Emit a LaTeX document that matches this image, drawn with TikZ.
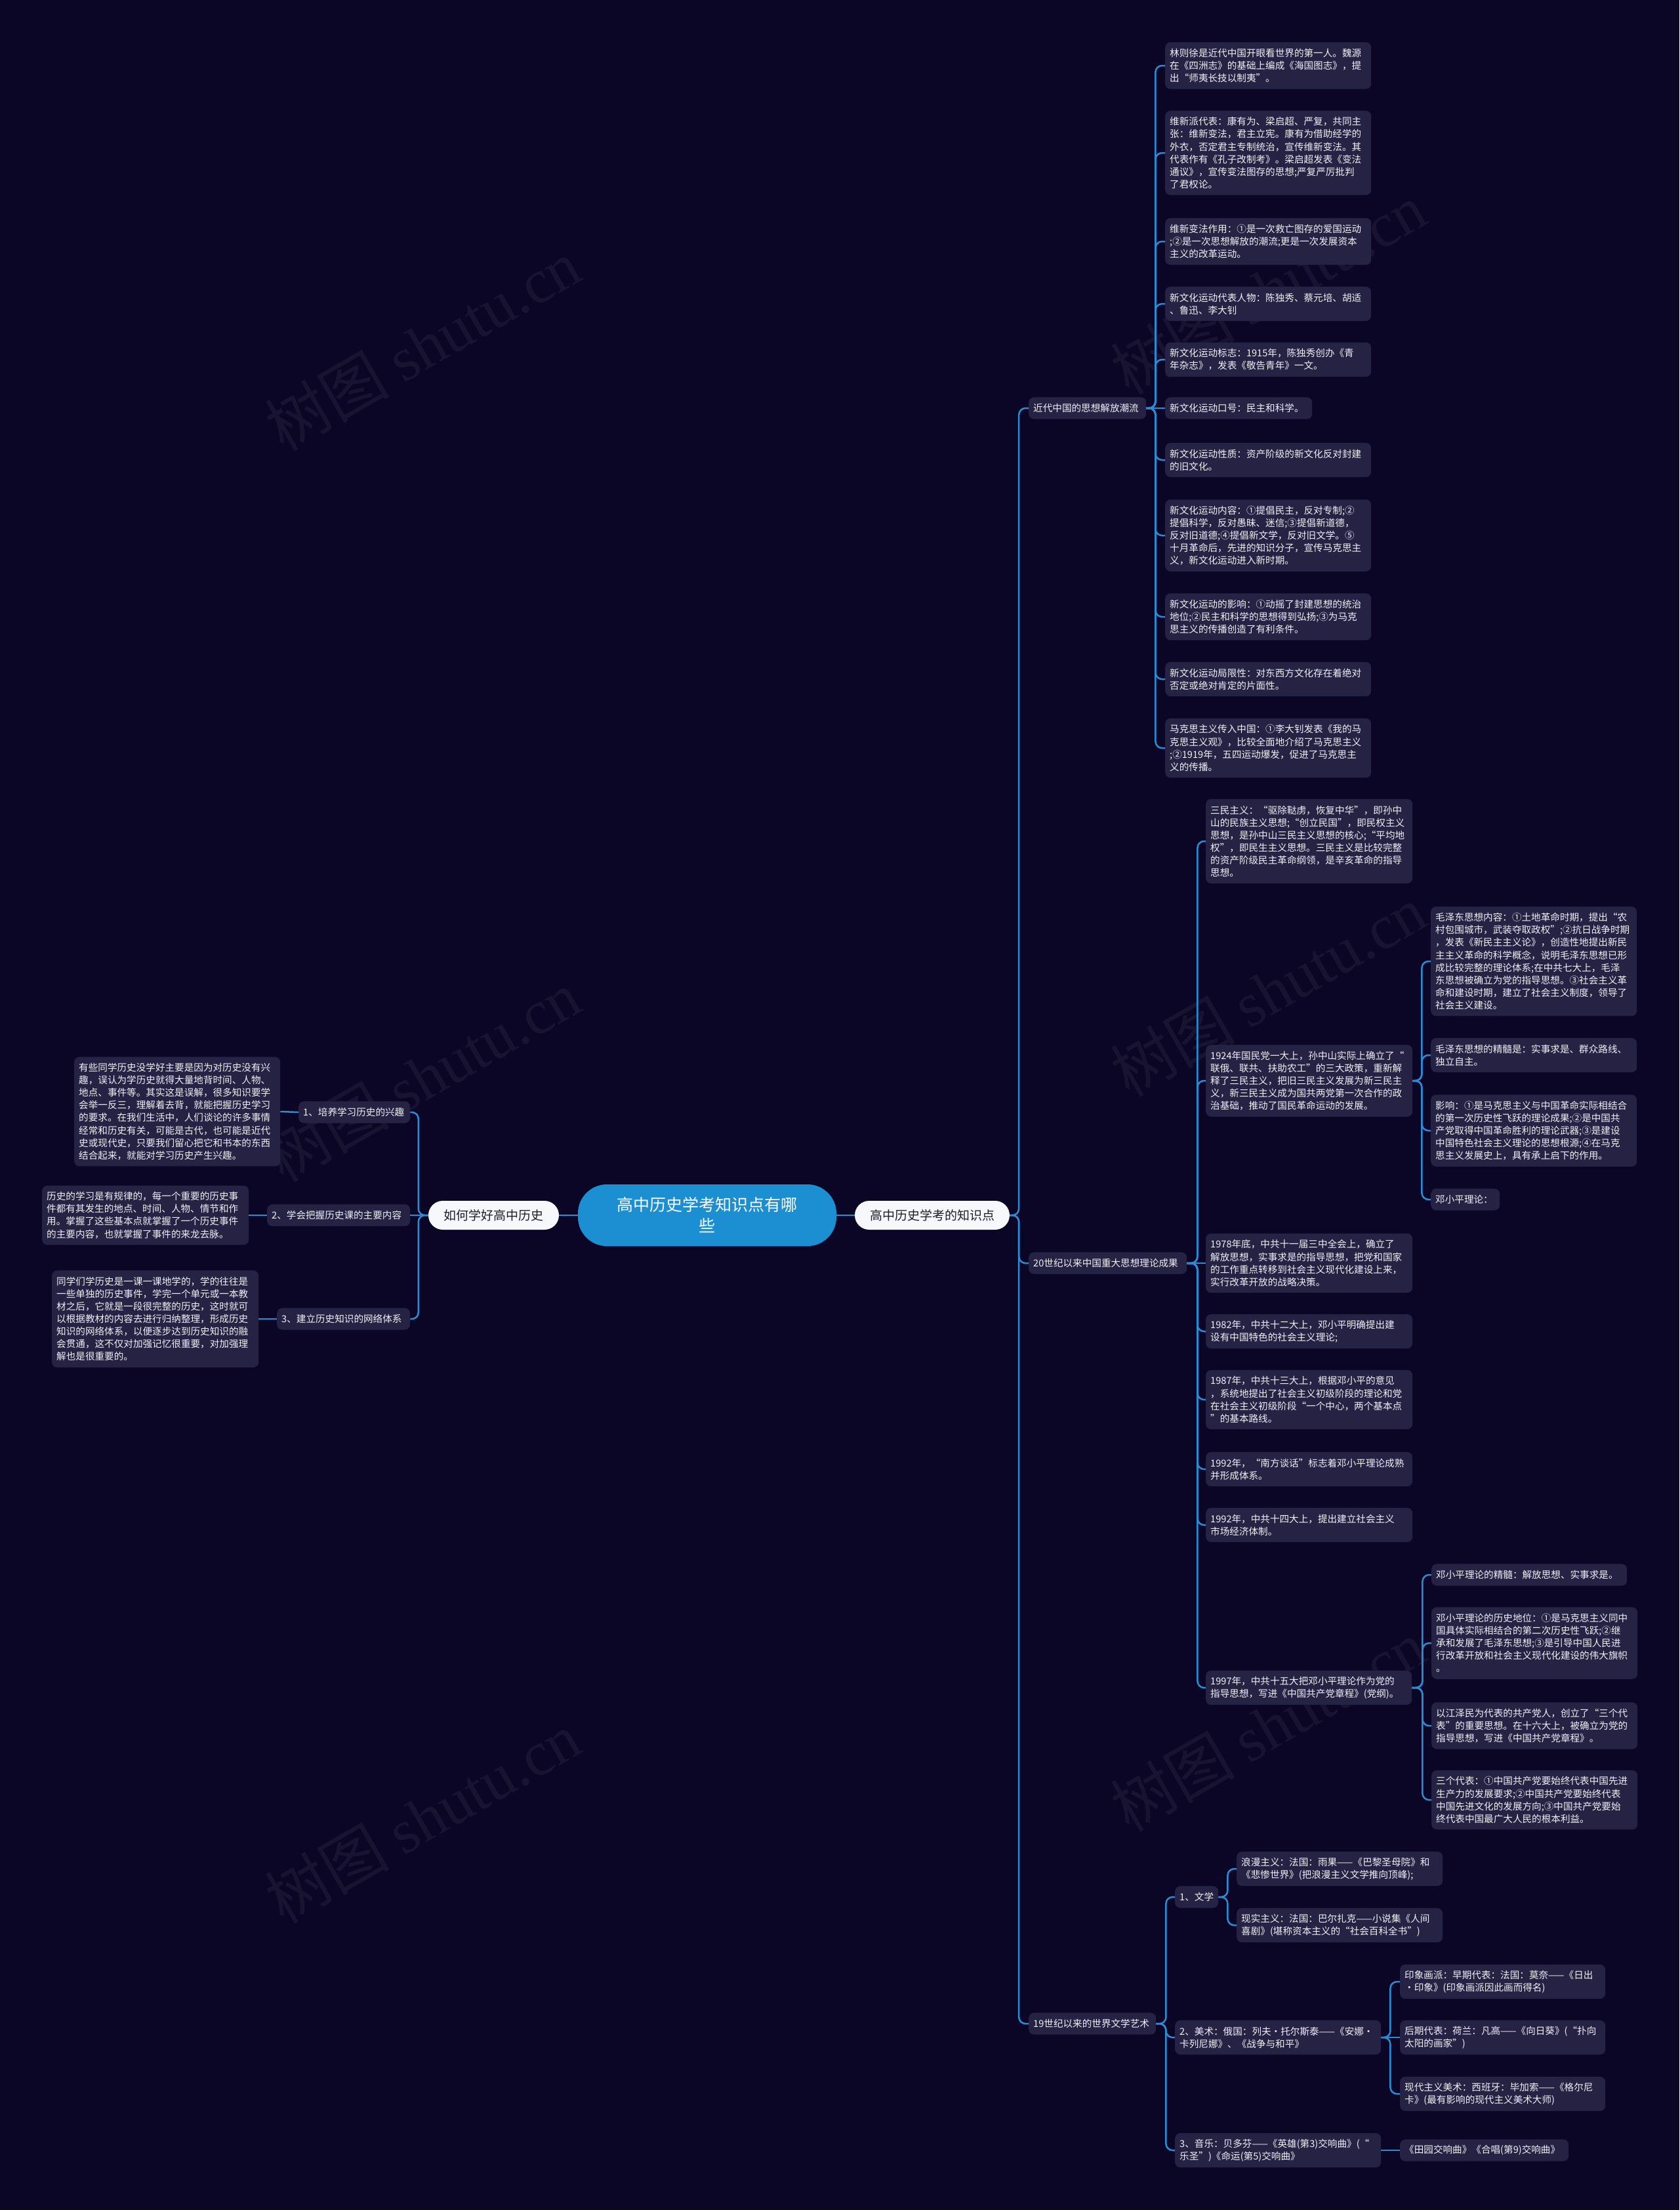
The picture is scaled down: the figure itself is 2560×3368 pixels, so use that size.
\documentclass[tikz,border=0pt]{standalone}
\usepackage{fontspec}
\setmainfont{Noto Sans CJK SC}
\newfontfamily\wmserif{Liberation Serif}
\definecolor{bgc}{RGB}{11,6,38}
\definecolor{boxc}{RGB}{38,34,68}
\definecolor{linec}{RGB}{41,141,214}
\definecolor{rootc}{RGB}{27,143,209}
\definecolor{pillc}{RGB}{246,248,252}
\definecolor{pilltxt}{RGB}{30,30,40}
\definecolor{txtc}{RGB}{240,240,246}
\tikzset{
  tbox/.style={fill=boxc,rounded corners=8pt,text=txtc,font=\fontsize{14.6}{19.1}\selectfont,
    align=left,inner xsep=7pt,inner ysep=0pt,anchor=west},
  conn/.style={draw=linec,line width=2.5pt,rounded corners=10pt},
  pill/.style={fill=pillc,text=pilltxt,rounded corners=22pt,minimum height=44pt,
    font=\fontsize{19}{24}\selectfont,inner sep=0pt},
  rootbox/.style={fill=rootc,text=white,rounded corners=44pt,minimum width=394pt,minimum height=94pt,
    font=\fontsize{25}{32}\selectfont,align=center,inner sep=0pt},
  wm/.style={text=white,text opacity=0.055,font=\fontsize{95}{95}\selectfont,rotate=30,anchor=center}
}
\newcommand\bx[6]{\node[tbox,text width=#4pt,minimum height=#5pt] (#1) at (#2,#3) {#6};}
\begin{document}
\begin{tikzpicture}[x=1pt,y=-1pt]
\useasboundingbox (0,0) rectangle (2560,3368);
\fill[bgc] (0,0) rectangle (2560,3368);
% watermarks
\node[wm] (wm1) at (644,526) {树图 {\wmserif shutu.cn}};
\node[wm] (wm2) at (1933,440) {树图 {\wmserif shutu.cn}};
\node[wm] (wm3) at (644,1640) {树图 {\wmserif shutu.cn}};
\node[wm] (wm4) at (1933,1510) {树图 {\wmserif shutu.cn}};
\node[wm] (wm5) at (644,2770) {树图 {\wmserif shutu.cn}};
\node[wm] (wm6) at (1933,2630) {树图 {\wmserif shutu.cn}};
% center
\node[rootbox] (root) at (1078,1852) {高中历史学考知识点有哪\\些};
\node[pill,minimum width=199pt] (PL) at (752.5,1852) {如何学好高中历史};
\node[pill,minimum width=236pt] (PR) at (1421,1852) {高中历史学考的知识点};
% left
\bx{L1}{455}{1695}{156}{33.1}{1、培养学习历史的兴趣}
\bx{L2}{407}{1852}{204}{33.1}{2、学会把握历史课的主要内容}
\bx{L3}{422}{2010}{189}{33.1}{3、建立历史知识的网络体系}
\bx{LT1}{113}{1694}{300}{166.8}{有些同学历史没学好主要是因为对历史没有兴\\趣，误认为学历史就得大量地背时间、人物、\\地点、事件等。其实这是误解，很多知识要学\\会举一反三，理解着去背，就能把握历史学习\\的要求。在我们生活中，人们谈论的许多事情\\经常和历史有关，可能是古代，也可能是近代\\史或现代史，只要我们留心把它和书本的东西\\结合起来，就能对学习历史产生兴趣。}
\bx{LT2}{64}{1852}{301}{90.4}{历史的学习是有规律的，每一个重要的历史事\\件都有其发生的地点、时间、人物、情节和作\\用。掌握了这些基本点就掌握了一个历史事件\\的主要内容，也就掌握了事件的来龙去脉。}
\bx{LT3}{79}{2010}{301}{147.7}{同学们学历史是一课一课地学的，学的往往是\\一些单独的历史事件，学完一个单元或一本教\\材之后，它就是一段很完整的历史，这时就可\\以根据教材的内容去进行归纳整理，形成历史\\知识的网络体系，以便逐步达到历史知识的融\\会贯通，这不仅对加强记忆很重要，对加强理\\解也是很重要的。}
% right level 1
\bx{B1}{1568}{622}{165}{33.1}{近代中国的思想解放潮流}
\bx{B2}{1568}{1925}{227}{33.1}{20世纪以来中国重大思想理论成果}
\bx{B3}{1568}{3084}{180}{33.1}{19世纪以来的世界文学艺术}
% B1 children
\bx{C1}{1776}{100}{300}{71.3}{林则徐是近代中国开眼看世界的第一人。魏源\\在《四洲志》的基础上编成《海国图志》，提\\出“师夷长技以制夷”。}
\bx{C2}{1776}{233}{300}{128.6}{维新派代表：康有为、梁启超、严复，共同主\\张：维新变法，君主立宪。康有为借助经学的\\外衣，否定君主专制统治，宣传维新变法。其\\代表作有《孔子改制考》。梁启超发表《变法\\通议》，宣传变法图存的思想;严复严厉批判\\了君权论。}
\bx{C3}{1776}{368}{300}{71.3}{维新变法作用：①是一次救亡图存的爱国运动\\;②是一次思想解放的潮流;更是一次发展资本\\主义的改革运动。}
\bx{C4}{1776}{463}{300}{52.2}{新文化运动代表人物：陈独秀、蔡元培、胡适\\、鲁迅、李大钊}
\bx{C5}{1776}{548}{300}{52.2}{新文化运动标志：1915年，陈独秀创办《青\\年杂志》，发表《敬告青年》一文。}
\bx{C6}{1776}{622}{210}{33.1}{新文化运动口号：民主和科学。}
\bx{C7}{1776}{701}{300}{52.2}{新文化运动性质：资产阶级的新文化反对封建\\的旧文化。}
\bx{C8}{1776}{816}{300}{109.5}{新文化运动内容：①提倡民主，反对专制;②\\提倡科学，反对愚昧、迷信;③提倡新道德，\\反对旧道德;④提倡新文学，反对旧文学。⑤\\十月革命后，先进的知识分子，宣传马克思主\\义，新文化运动进入新时期。}
\bx{C9}{1776}{940}{300}{71.3}{新文化运动的影响：①动摇了封建思想的统治\\地位;②民主和科学的思想得到弘扬;③为马克\\思主义的传播创造了有利条件。}
\bx{C10}{1776}{1035}{300}{52.2}{新文化运动局限性：对东西方文化存在着绝对\\否定或绝对肯定的片面性。}
\bx{C11}{1776}{1140}{300}{90.4}{马克思主义传入中国：①李大钊发表《我的马\\克思主义观》，比较全面地介绍了马克思主义\\;②1919年，五四运动爆发，促进了马克思主\\义的传播。}
% B2 children
\bx{D1}{1838}{1282}{301}{128.6}{三民主义：“驱除鞑虏，恢复中华”，即孙中\\山的民族主义思想;“创立民国”，即民权主义\\思想，是孙中山三民主义思想的核心;“平均地\\权”，即民生主义思想。三民主义是比较完整\\的资产阶级民主革命纲领，是辛亥革命的指导\\思想。}
\bx{D2}{1838}{1647}{301}{109.5}{1924年国民党一大上，孙中山实际上确立了“\\联俄、联共、扶助农工”的三大政策，重新解\\释了三民主义，把旧三民主义发展为新三民主\\义，新三民主义成为国共两党第一次合作的政\\治基础，推动了国民革命运动的发展。}
\bx{D3}{1838}{1925}{301}{90.4}{1978年底，中共十一届三中全会上，确立了\\解放思想，实事求是的指导思想，把党和国家\\的工作重点转移到社会主义现代化建设上来，\\实行改革开放的战略决策。}
\bx{D4}{1838}{2029}{301}{52.2}{1982年，中共十二大上，邓小平明确提出建\\设有中国特色的社会主义理论;}
\bx{D5}{1838}{2133}{301}{90.4}{1987年，中共十三大上，根据邓小平的意见\\，系统地提出了社会主义初级阶段的理论和党\\在社会主义初级阶段“一个中心，两个基本点\\”的基本路线。}
\bx{D6}{1838}{2239}{301}{52.2}{1992年，“南方谈话”标志着邓小平理论成熟\\并形成体系。}
\bx{D7}{1838}{2324}{301}{52.2}{1992年，中共十四大上，提出建立社会主义\\市场经济体制。}
\bx{D8}{1838}{2572}{300}{52.2}{1997年，中共十五大把邓小平理论作为党的\\指导思想，写进《中国共产党章程》(党纲)。}
% D2 children
\bx{E1}{2181}{1465}{300}{166.8}{毛泽东思想内容：①土地革命时期，提出“农\\村包围城市，武装夺取政权”;②抗日战争时期\\，发表《新民主主义论》，创造性地提出新民\\主主义革命的科学概念，说明毛泽东思想已形\\成比较完整的理论体系;在中共七大上，毛泽\\东思想被确立为党的指导思想。③社会主义革\\命和建设时期，建立了社会主义制度，领导了\\社会主义建设。}
\bx{E2}{2181}{1608}{300}{52.2}{毛泽东思想的精髓是：实事求是、群众路线、\\独立自主。}
\bx{E3}{2181}{1723}{300}{109.5}{影响：①是马克思主义与中国革命实际相结合\\的第一次历史性飞跃的理论成果;②是中国共\\产党取得中国革命胜利的理论武器;③是建设\\中国特色社会主义理论的思想根源;④在马克\\思主义发展史上，具有承上启下的作用。}
\bx{E4}{2181}{1828}{91}{33.1}{邓小平理论：}
% D8 children
\bx{F1}{2182}{2400}{284}{33.1}{邓小平理论的精髓：解放思想、实事求是。}
\bx{F2}{2182}{2504}{300}{109.5}{邓小平理论的历史地位：①是马克思主义同中\\国具体实际相结合的第二次历史性飞跃;②继\\承和发展了毛泽东思想;③是引导中国人民进\\行改革开放和社会主义现代化建设的伟大旗帜\\。}
\bx{F3}{2182}{2630}{300}{71.3}{以江泽民为代表的共产党人，创立了“三个代\\表”的重要思想。在十六大上，被确立为党的\\指导思想，写进《中国共产党章程》。}
\bx{F4}{2182}{2743}{300}{90.4}{三个代表：①中国共产党要始终代表中国先进\\生产力的发展要求;②中国共产党要始终代表\\中国先进文化的发展方向;③中国共产党要始\\终代表中国最广大人民的根本利益。}
% B3 children
\bx{G1}{1791}{2891}{52}{33.1}{1、文学}
\bx{G2}{1791}{3105}{300}{52.2}{2、美术：俄国：列夫•托尔斯泰——《安娜•\\卡列尼娜》、《战争与和平》}
\bx{G3}{1791}{3277}{300}{52.2}{3、音乐：贝多芬——《英雄(第3)交响曲》(“\\乐圣”)《命运(第5)交响曲》}
\bx{H1}{1885}{2848}{300}{52.2}{浪漫主义：法国：雨果——《巴黎圣母院》和\\《悲惨世界》(把浪漫主义文学推向顶峰);}
\bx{H2}{1885}{2934}{300}{52.2}{现实主义：法国：巴尔扎克——小说集《人间\\喜剧》(堪称资本主义的“社会百科全书”)}
\bx{I1}{2134}{3020}{299}{52.2}{印象画派：早期代表：法国：莫奈——《日出\\•印象》(印象画派因此画而得名)}
\bx{I2}{2134}{3105}{299}{52.2}{后期代表：荷兰：凡高——《向日葵》(“扑向\\太阳的画家”)}
\bx{I3}{2134}{3191}{299}{52.2}{现代主义美术：西班牙：毕加索——《格尔尼\\卡》(最有影响的现代主义美术大师)}
\bx{J1}{2134}{3277}{243}{33.1}{《田园交响曲》《合唱(第9)交响曲》}
% connectors
\draw[conn] (root.west) -- (PL.east);
\draw[conn] (root.east) -- (PR.west);
\draw[conn] (PL.west) -- ++(-15,0) |- (L1.east);
\draw[conn] (PL.west) -- (L2.east);
\draw[conn] (PL.west) -- ++(-15,0) |- (L3.east);
\draw[conn] (L1.west) -- (LT1.east);
\draw[conn] (L2.west) -- (LT2.east);
\draw[conn] (L3.west) -- (LT3.east);
\foreach \c in {B1,B2,B3} {\draw[conn] (PR.east) -- ++(14,0) |- (\c.west);}
\foreach \c in {C1,C2,C3,C4,C5,C7,C8,C9,C10,C11} {\draw[conn] (B1.east) -- ++(14,0) |- (\c.west);}
\draw[conn] (B1.east) -- (C6.west);
\foreach \c in {D1,D2,D4,D5,D6,D7,D8} {\draw[conn] (B2.east) -- ++(16,0) |- (\c.west);}
\draw[conn] (B2.east) -- (D3.west);
\foreach \c in {E1,E2,E3,E4} {\draw[conn] (D2.east) -- ++(14,0) |- (\c.west);}
\foreach \c in {F1,F2,F3,F4} {\draw[conn] (D8.east) -- ++(16,0) |- (\c.west);}
\foreach \c in {G1,G2,G3} {\draw[conn] (B3.east) -- ++(15,0) |- (\c.west);}
\foreach \c in {H1,H2} {\draw[conn] (G1.east) -- ++(14,0) |- (\c.west);}
\draw[conn] (G2.east) -- ++(14,0) |- (I1.west);
\draw[conn] (G2.east) -- (I2.west);
\draw[conn] (G2.east) -- ++(14,0) |- (I3.west);
\draw[conn] (G3.east) -- (J1.west);
\end{tikzpicture}
\end{document}
